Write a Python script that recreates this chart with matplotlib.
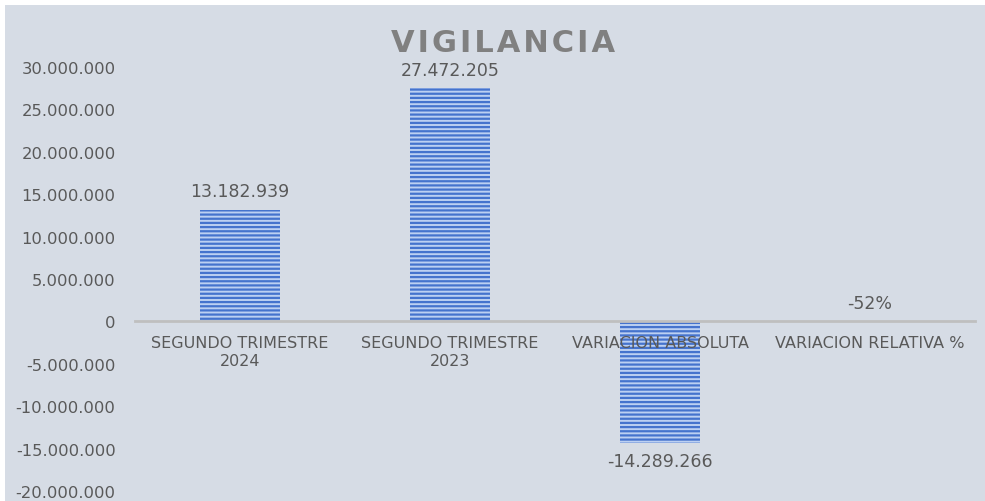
import numpy as np
import matplotlib
matplotlib.use("Agg")
import matplotlib.pyplot as plt
from matplotlib.ticker import FuncFormatter
from matplotlib.patches import Rectangle

categories = ["SEGUNDO TRIMESTRE\n2024", "SEGUNDO TRIMESTRE\n2023",
              "VARIACION ABSOLUTA", "VARIACION RELATIVA %"]
values = [13182939, 27472205, -14289266, -0.52]
labels = ["13.182.939", "27.472.205", "-14.289.266", "-52%"]
yticks = np.arange(-20000000, 30000001, 5000000)

plt.rcParams['font.family'] = ['DejaVu Sans']
plt.rcParams['hatch.linewidth'] = 1.6
txt = "#595959"
bg = "#D6DCE5"

def miles(v, pos=None):
    s = format(int(abs(v)), ",").replace(",", ".")
    return ("-" if v < 0 else "") + s

fig = plt.figure(figsize=(9.85, 5.02), dpi=100)
fig.patch.set_facecolor("white")
fig.patches.append(Rectangle((5 / 985, 0), 1, 1 - 6 / 502, transform=fig.transFigure,
                             facecolor=bg, edgecolor="none", zorder=-5))

ax = fig.add_axes([135 / 985, 1 - 492 / 502, 840 / 985, 424 / 502])
ax.set_facecolor("none")
x = np.arange(len(categories))
bars = ax.bar(x, values, width=0.38, color="#BCD0F2", edgecolor="#4573CD",
              linewidth=0, hatch="----", zorder=1)

ax.set_xlim(-0.5, len(categories) - 0.5)
ax.set_ylim(-20000000, 30000000)
ax.set_yticks(yticks)
ax.yaxis.set_major_formatter(FuncFormatter(miles))
ax.tick_params(axis="y", length=0, labelsize=11.8, labelcolor=txt, pad=14)
ax.set_xticks(x)
ax.set_xticklabels(categories, linespacing=1.5)
ax.tick_params(axis="x", length=0, pad=10, labelsize=11.5, labelcolor=txt)

for sp in ["top", "right", "left"]:
    ax.spines[sp].set_visible(False)
ax.spines["bottom"].set_position(("data", 0))
ax.spines["bottom"].set_color("#BFBFBF")
ax.spines["bottom"].set_linewidth(2)

for xi, v, lab in zip(x, values, labels):
    if v >= 0 or abs(v) < 1:
        ax.annotate(lab, (xi, max(v, 0)), xytext=(0, 7), textcoords="offset points",
                    ha="center", va="bottom", fontsize=12.5, color=txt)
    else:
        ax.annotate(lab, (xi, v), xytext=(0, -7), textcoords="offset points",
                    ha="center", va="top", fontsize=12.5, color=txt)

fig.text(503 / 985, 1 - 43 / 502, "V I G I L A N C I A".replace(" ", "\u200a"),
         ha="center", va="center", fontsize=22, fontweight="bold", color="#808080")

fig.savefig("out.png", dpi=100)
